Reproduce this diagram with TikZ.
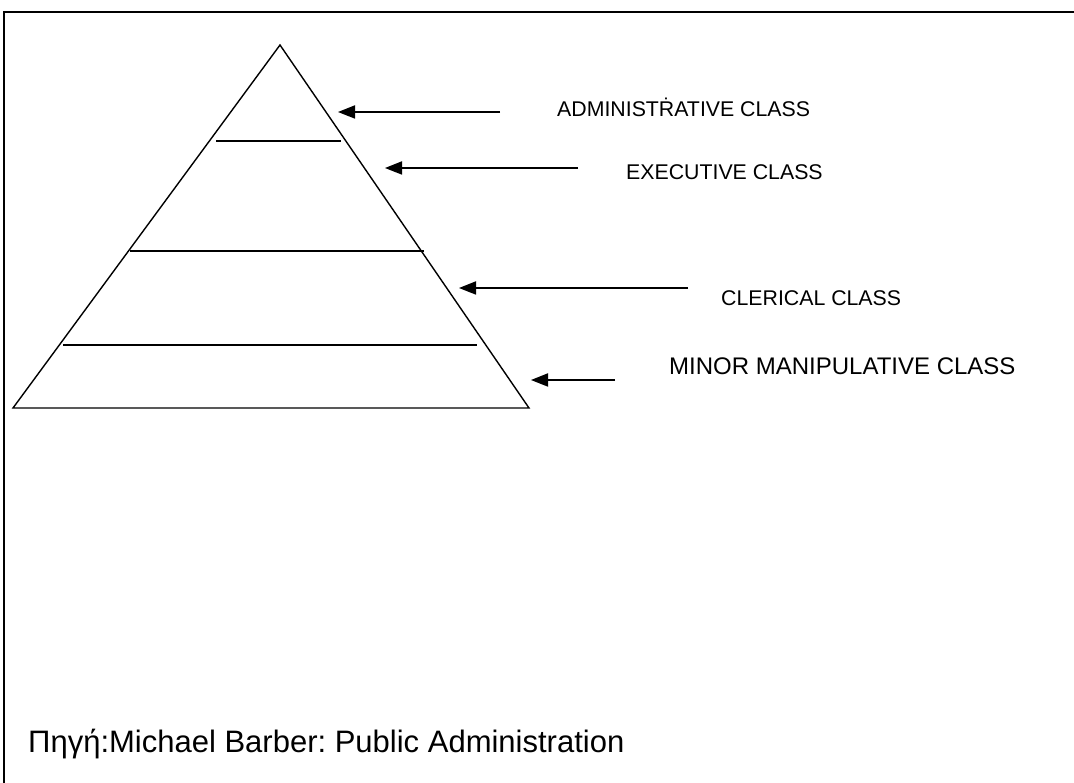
\documentclass[tikz,border=0pt]{standalone}
\usepackage{fontspec}
\setmainfont{Liberation Sans}
\usetikzlibrary{arrows.meta}
\frenchspacing

\begin{document}
\begin{tikzpicture}[
 x=1pt, y=-1pt,
 frame/.style={line width=2pt},
 tri/.style={line width=1.4pt, line join=miter},
 band/.style={line width=1.6pt},
 lbl/.style={anchor=base west, inner sep=0pt, font=\fontsize{21.3}{25}\selectfont},
 src/.style={anchor=base west, inner sep=0pt, font=\fontsize{31}{36}\selectfont},
 ar/.style={-{Triangle[length=17pt,width=13pt]}, line width=1.8pt},
]
 \useasboundingbox (0,0) rectangle (1074,783);
 % frame, cut at the right and bottom
 \draw[frame] (1074,12) -- (4,12) -- (4,783);
 % pyramid
 \coordinate (top) at (280,45);
 \coordinate (bl) at (13,408);
 \coordinate (br) at (529,408);
 \draw[tri] (bl) -- (top) -- (br) -- cycle;
 \draw[band] (216,141) -- (341,141);
 \draw[band] (130,251) -- (424,251);
 \draw[band] (63,345) -- (477,345);
 % labels
 \node[lbl] (adm) at (557,117) {ADMINIST\.{R}ATIVE CLASS};
 \node[lbl] (exe) at (626,180) {EXECUTIVE CLASS};
 \node[lbl] (cle) at (721,306) {CLERICAL CLASS};
 \node[lbl, font=\fontsize{24}{28}\selectfont] (min) at (669,375) {MINOR MANIPULATIVE CLASS};
 % arrows
 \coordinate (admT) at (500,112);
 \coordinate (admH) at (338,112);
 \coordinate (exeT) at (578,168);
 \coordinate (exeH) at (385,168);
 \coordinate (cleT) at (688,288);
 \coordinate (cleH) at (459,288);
 \coordinate (minT) at (615,380);
 \coordinate (minH) at (531,380);
 \draw[ar] (admT) -- (admH);
 \draw[ar] (exeT) -- (exeH);
 \draw[ar] (cleT) -- (cleH);
 \draw[ar] (minT) -- (minH);
 % source
 \node[src] (source) at (28,752) {Πηγή:Michael Barber: Public Administration};
\end{tikzpicture}
\end{document}
